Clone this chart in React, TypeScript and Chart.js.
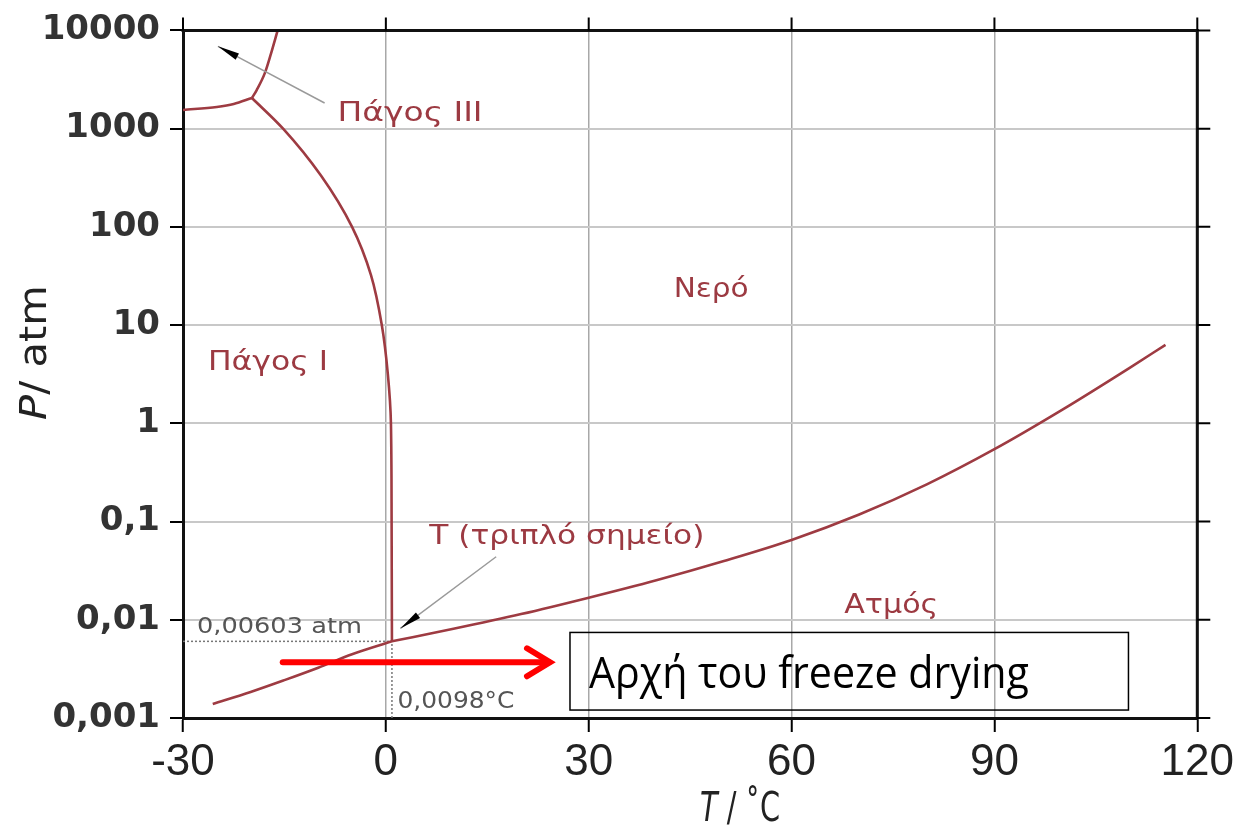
import React, { useEffect, useRef } from 'react';
import { Chart, registerables } from 'chart.js';

Chart.register(...registerables);

// ---- axis ticks ----
const X_TICKS = [-30, 0, 30, 60, 90, 120];
const Y_TICKS = [0.001, 0.01, 0.1, 1, 10, 100, 1000, 10000];
const Y_TICK_LABELS = ['0,001', '0,01', '0,1', '1', '10', '100', '1000', '10000'];

// ---- triple point ----
const TRIPLE_T = 0.9;
const TRIPLE_P = 0.00603;

// ---- phase boundaries (T in °C, P in atm) ----
const SUB_T = [-25.6, -20, -15, -10, -5, 0.9];
const SUB_P = [0.00139, 0.00184, 0.00243, 0.00325, 0.00445, 0.00603];

const VAP_T = [0.9, 10, 20, 30, 40, 50, 60, 70, 80, 90, 100, 110, 115.3];
const VAP_P = [0.00603, 0.00809, 0.01143, 0.0168, 0.0253, 0.0397, 0.065, 0.118, 0.239, 0.545, 1.37, 3.67, 6.3];

const MELT_T = [0.9, 0.85, 0.75, 0.3, -0.6, -2.2, -5.0, -9.6, -15.2, -19.8];
const MELT_P = [0.00603, 0.1, 1, 3.13, 10, 32.3, 100, 333, 1000, 2051];

const ICE13_T = [-30, -25, -22.5, -19.8];
const ICE13_P = [1549, 1663, 1782, 2051];

const ICE3W_T = [-19.8, -19.1, -17.9, -17.1, -16.0];
const ICE3W_P = [2051, 2471, 3673, 5470, 10000];

// ---- annotations (data coordinates) ----
const RED = '#9c3a42';
const GREY = '#555555';

const LABELS = [
  { text: 'Πάγος III', T: -7.14, P: 1197, size: 27, width: 145, color: RED },
  { text: 'Πάγος I', T: -26.31, P: 3.52, size: 27, width: 120, color: RED },
  { text: 'Νερό', T: 42.57, P: 19.3, size: 27, width: 75, color: RED },
  { text: 'T (τριπλό σημείο)', T: 6.43, P: 0.0593, size: 27, width: 275, color: RED },
  { text: 'Ατμός', T: 67.79, P: 0.01159, size: 27, width: 94, color: RED },
  { text: '0,00603 atm', T: -27.94, P: 0.00726, size: 22, width: 165, color: GREY },
  { text: '0,0098°C', T: 1.71, P: 0.00126, size: 23, width: 117, color: GREY },
];

const POINTER_ARROWS = [
  { fromT: -9.06, fromP: 1824, toT: -24.84, toP: 6890 },
  { fromT: 16.31, fromP: 0.0438, toT: 2.15, toP: 0.00816 },
];

const RED_ARROW = { fromT: -15.25, toT: 24.57, P: 0.00369 };
const BOX = { T0: 27.23, T1: 109.82, Ptop: 0.00743, Pbot: 0.001205 };
const BOX_TEXT = { text: 'Αρχή του freeze drying', T: 30.03, P: 0.00201, width: 440 };

const toXY = (T: number[], P: number[]) => T.map((t, i) => ({ x: t, y: P[i] }));

type Seg = { t: string; font: string };

function drawFit(ctx: CanvasRenderingContext2D, segs: Seg[], x: number, y: number, width: number) {
  let total = 0;
  const ws = segs.map((s) => {
    ctx.font = s.font;
    const w = ctx.measureText(s.t).width;
    total += w;
    return w;
  });
  const sx = width / total;
  ctx.save();
  ctx.translate(x, y);
  ctx.scale(sx, 1);
  ctx.textAlign = 'left';
  ctx.textBaseline = 'alphabetic';
  let cx = 0;
  segs.forEach((s, i) => {
    ctx.font = s.font;
    ctx.fillText(s.t, cx, 0);
    cx += ws[i];
  });
  ctx.restore();
}

function arrowHead(ctx: CanvasRenderingContext2D, x0: number, y0: number, x1: number, y1: number, len: number, half: number) {
  const a = Math.atan2(y1 - y0, x1 - x0);
  const bx = x1 - len * Math.cos(a);
  const by = y1 - len * Math.sin(a);
  ctx.beginPath();
  ctx.moveTo(x1, y1);
  ctx.lineTo(bx + half * Math.sin(a), by - half * Math.cos(a));
  ctx.lineTo(bx - half * Math.sin(a), by + half * Math.cos(a));
  ctx.closePath();
  ctx.fill();
}

const overlayPlugin = {
  id: 'overlay',
  afterDatasetsDraw(chart: any) {
    const ctx: CanvasRenderingContext2D = chart.ctx;
    const xs = chart.scales.x;
    const ys = chart.scales.y;
    const { left, right, top, bottom } = chart.chartArea;
    const px = (t: number) => xs.getPixelForValue(t);
    const py = (p: number) => ys.getPixelForValue(p);

    ctx.save();
    // top & right frame with outward ticks
    ctx.strokeStyle = '#111';
    ctx.lineWidth = 3;
    ctx.beginPath();
    ctx.moveTo(left - 1.5, top);
    ctx.lineTo(right, top);
    ctx.lineTo(right, bottom + 1.5);
    ctx.stroke();
    ctx.lineWidth = 2;
    ctx.strokeStyle = '#000';
    ctx.beginPath();
    X_TICKS.forEach((t) => {
      const x = px(t);
      ctx.moveTo(x, top);
      ctx.lineTo(x, top - 13);
    });
    Y_TICKS.forEach((p) => {
      const y = py(p);
      ctx.moveTo(right, y);
      ctx.lineTo(right + 13, y);
    });
    ctx.stroke();

    // pointer arrows (grey line, black head)
    POINTER_ARROWS.forEach((a) => {
      const x0 = px(a.fromT), y0 = py(a.fromP), x1 = px(a.toT), y1 = py(a.toP);
      ctx.strokeStyle = '#9a9a9a';
      ctx.lineWidth = 1.5;
      ctx.beginPath();
      ctx.moveTo(x0, y0);
      ctx.lineTo(x1, y1);
      ctx.stroke();
      ctx.fillStyle = '#000';
      arrowHead(ctx, x0, y0, x1, y1, 22, 3.5);
    });

    // labels
    LABELS.forEach((l) => {
      ctx.fillStyle = l.color;
      drawFit(ctx, [{ t: l.text, font: `${l.size}px "DejaVu Sans"` }], px(l.T), py(l.P), l.width);
    });

    // red arrow
    const ry = py(RED_ARROW.P);
    const rx0 = px(RED_ARROW.fromT);
    const rx1 = px(RED_ARROW.toT);
    ctx.strokeStyle = '#ff0000';
    ctx.lineWidth = 6;
    ctx.lineCap = 'round';
    ctx.lineJoin = 'miter';
    ctx.beginPath();
    ctx.moveTo(rx0, ry);
    ctx.lineTo(rx1 - 3, ry);
    ctx.stroke();
    ctx.beginPath();
    ctx.moveTo(rx1 - 25, ry - 14);
    ctx.lineTo(rx1 - 2, ry);
    ctx.lineTo(rx1 - 25, ry + 14);
    ctx.stroke();

    // box
    ctx.strokeStyle = '#000';
    ctx.lineWidth = 1.5;
    ctx.lineCap = 'butt';
    const bx0 = px(BOX.T0), bx1 = px(BOX.T1), by0 = py(BOX.Ptop), by1 = py(BOX.Pbot);
    ctx.strokeRect(bx0, by0, bx1 - bx0, by1 - by0);
    ctx.fillStyle = '#000';
    drawFit(ctx, [{ t: BOX_TEXT.text, font: '43px "Open Sans"' }], px(BOX_TEXT.T), py(BOX_TEXT.P), BOX_TEXT.width);

    // axis titles
    ctx.fillStyle = '#222';
    drawFit(
      ctx,
      [
        { t: 'T', font: 'italic 40px "DejaVu Sans"' },
        { t: ' / ˚C', font: '40px "DejaVu Sans"' },
      ],
      700,
      821,
      80
    );
    ctx.save();
    ctx.translate(46, 420);
    ctx.rotate(-Math.PI / 2);
    drawFit(
      ctx,
      [
        { t: 'P', font: 'italic 38px "DejaVu Sans"' },
        { t: '/ atm', font: '38px "DejaVu Sans"' },
      ],
      0,
      0,
      135
    );
    ctx.restore();
    ctx.restore();
  },
};

export default function App() {
  const ref = useRef<HTMLCanvasElement | null>(null);

  useEffect(() => {
    if (!ref.current) return;
    const curve = {
      borderColor: '#9e3b42',
      borderWidth: 2.6,
      pointRadius: 0,
      cubicInterpolationMode: 'monotone',
      fill: false,
      order: 0,
    };
    const dotted = {
      borderColor: '#777',
      borderWidth: 1.5,
      borderDash: [2, 2],
      pointRadius: 0,
      tension: 0,
      fill: false,
      order: 1,
    };
    const chart = new Chart(ref.current, {
      type: 'line',
      data: {
        datasets: [
          { ...curve, data: toXY(SUB_T, SUB_P) },
          { ...curve, data: toXY(VAP_T, VAP_P) },
          { ...curve, indexAxis: 'y', data: toXY(MELT_T, MELT_P) },
          { ...curve, data: toXY(ICE13_T, ICE13_P) },
          { ...curve, data: toXY(ICE3W_T, ICE3W_P) },
          { ...dotted, data: [{ x: -30, y: TRIPLE_P }, { x: TRIPLE_T, y: TRIPLE_P }] },
          { ...dotted, indexAxis: 'y', data: [{ x: TRIPLE_T, y: 0.001 }, { x: TRIPLE_T, y: TRIPLE_P }] },
        ] as any,
      },
      options: {
        animation: false,
        responsive: false,
        layout: { padding: { left: 0, right: 38, top: 27, bottom: 0 } },
        plugins: { legend: { display: false }, tooltip: { enabled: false } },
        scales: {
          x: {
            type: 'linear',
            min: -30,
            max: 120,
            afterBuildTicks: (s: any) => {
              s.ticks = X_TICKS.map((v) => ({ value: v }));
            },
            afterFit: (s: any) => {
              s.height = 112;
            },
            ticks: {
              font: { family: '"Liberation Sans"', size: 44 },
              color: '#222',
              padding: 4,
              maxRotation: 0,
              autoSkip: false,
            },
            grid: { color: '#a8a8a8', lineWidth: 1.5, tickColor: '#000', tickLength: 14, tickWidth: 2 },
            border: { color: '#111', width: 3 },
          },
          y: {
            type: 'logarithmic',
            min: 0.001,
            max: 10000,
            afterBuildTicks: (s: any) => {
              s.ticks = Y_TICKS.map((v) => ({ value: v }));
            },
            afterFit: (s: any) => {
              s.width = 183;
            },
            ticks: {
              font: { family: '"DejaVu Sans"', size: 34, weight: 'bold' },
              color: '#333',
              padding: 10,
              autoSkip: false,
              callback: (v: any) => {
                const i = Y_TICKS.findIndex((t) => Math.abs(Math.log10(t) - Math.log10(Number(v))) < 1e-6);
                return i >= 0 ? Y_TICK_LABELS[i] : '';
              },
            },
            grid: { color: '#c8c8c8', lineWidth: 2, tickColor: '#000', tickLength: 13, tickWidth: 2 },
            border: { color: '#111', width: 3 },
          },
        },
      } as any,
      plugins: [overlayPlugin],
    });
    return () => chart.destroy();
  }, []);

  return (
    <div style={{ position: 'fixed', left: 0, top: 0, width: 1238, height: 830, background: '#fff' }}>
      <canvas ref={ref} width={1238} height={830} style={{ width: 1238, height: 830, display: 'block' }} />
    </div>
  );
}
